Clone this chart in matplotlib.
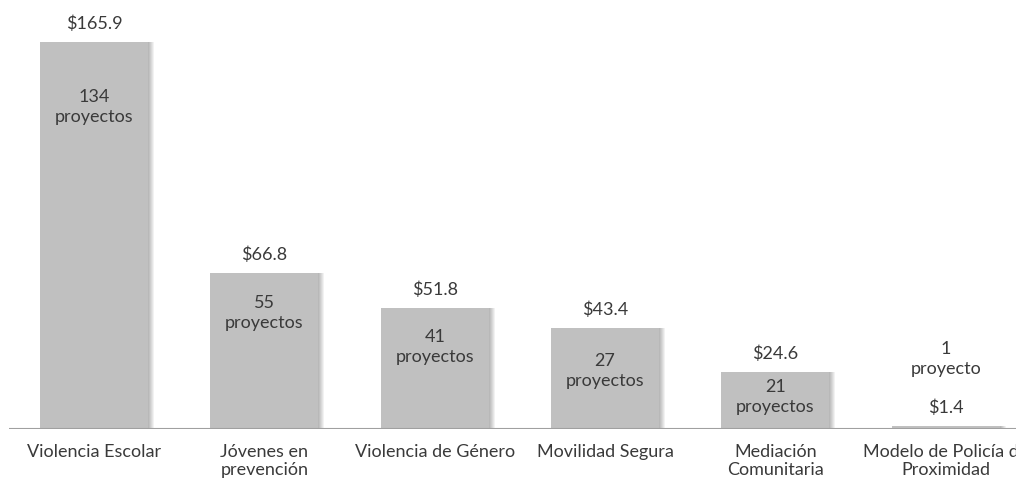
import numpy as np
import matplotlib
matplotlib.use("Agg")
import matplotlib.pyplot as plt

categorias = ["Violencia Escolar", "Jóvenes en\nprevención", "Violencia de Género",
              "Movilidad Segura", "Mediación\nComunitaria", "Modelo de Policía de\nProximidad"]
montos = [165.9, 66.8, 51.8, 43.4, 24.6, 1.4]
proyectos = [134, 55, 41, 27, 21, 1]

# layout only: px below the bar top for the inner label
inner_offset = [64, 39, 38, 42, 24, -68]

plt.rcParams['font.family'] = ['Lato', 'DejaVu Sans']
txt_color = '#3a3a3a'
fs = 13

fig = plt.figure(figsize=(10.16, 4.85), dpi=100)
ax = fig.add_axes([9 / 1016, 55 / 485, 1007 / 1016, 430 / 485])
ax.set_xlim(-0.5, -0.5 + 1007 / 170.3)
ax.set_ylim(0, 430 / 2.333)

x = np.arange(len(montos))
w = 108 / 170.3
px = 1 / 170.3

# soft shadow on the right
for k in range(1, 7):
    ax.bar(x + k * px, montos, width=w, color='black', alpha=0.05, linewidth=0, zorder=1)
ax.bar(x, montos, width=w, color='#c0c0c0', linewidth=0, zorder=2)

for i, (m, p) in enumerate(zip(montos, proyectos)):
    ax.annotate(f"${m:.1f}", (x[i], m), xytext=(0, 19), textcoords='offset pixels',
                ha='center', va='center', fontsize=fs, color=txt_color, zorder=3)
    lbl = f"{p}\nproyecto" if p == 1 else f"{p}\nproyectos"
    ax.annotate(lbl, (x[i], m), xytext=(0, -inner_offset[i]), textcoords='offset pixels',
                ha='center', va='center', fontsize=fs, color=txt_color,
                linespacing=1.3, zorder=3)

ax.axhline(0, color='#a0a0a0', linewidth=1.5, zorder=4)
ax.set_xticks(x)
ax.set_xticklabels(categorias, fontsize=fs, color=txt_color, linespacing=1.15)
ax.tick_params(axis='x', length=0, pad=10)
ax.set_yticks([])
for s in ax.spines.values():
    s.set_visible(False)

fig.savefig("out.png", dpi=100)
